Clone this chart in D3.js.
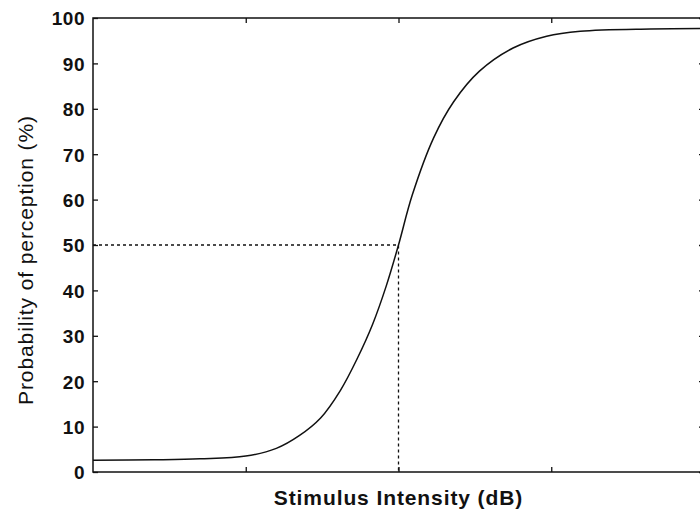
<!DOCTYPE html>
<html>
<head>
<meta charset="utf-8">
<script src="https://cdn.jsdelivr.net/npm/d3@7"></script>
<style>
    body { margin: 0; background: #fff; }
    text { font-family: "Liberation Sans", Arial, sans-serif; fill: #111; }
</style>
</head>
<body>
<div id="chart"></div>
<script>
    "use strict";

    // stimulus intensity (dB)
    const intensity = [0, 4, 7, 10, 12, 13.5, 14.9, 16.2, 17.3, 18.3, 19.2, 20, 20.9, 22.3, 23.6, 25.3, 27.5, 29.7, 31.9, 36.5, 40];
    // probability of perception (%) at each intensity
    const probability = [2.6, 2.7, 2.9, 3.5, 5.2, 8.0, 11.9, 18.0, 25.0, 32.5, 41, 50, 61, 73.6, 81.5, 88.3, 93.4, 96, 97.1, 97.6, 97.7];
    const yTicks = [0, 10, 20, 30, 40, 50, 60, 70, 80, 90, 100];
    const xTicks = [10, 20, 30];
    const threshold = { x: 20, y: 50 };

    const width = 700;
    const height = 529;
    const margin = { top: 18, right: -4, bottom: 57, left: 93 };

    const svg = d3.select("#chart").append("svg").attr("width", width).attr("height", height);

    const x = d3.scaleLinear().domain([0, 40]).range([margin.left, width - margin.right]);
    const y = d3.scaleLinear().domain([0, 100]).range([height - margin.bottom, margin.top]);

    const ink = "#111";
    const tickLen = 5;

    // frame
    svg.append("rect")
        .attr("x", x(0))
        .attr("y", y(100))
        .attr("width", x(40) - x(0))
        .attr("height", y(0) - y(100))
        .attr("fill", "none")
        .attr("stroke", ink)
        .attr("stroke-width", 1.5);

    // inward ticks, matlab style
    const yAxisLeft = d3.axisLeft(y).tickValues(yTicks).tickSize(-tickLen).tickPadding(8);
    const gLeft = svg.append("g").attr("transform", `translate(${x(0)},0)`).call(yAxisLeft);
    gLeft.select(".domain").remove();
    gLeft.selectAll("line").attr("stroke", ink).attr("stroke-width", 1.3);
    gLeft.selectAll("text")
        .style("font-size", "19px")
        .style("font-weight", "bold")
        .style("letter-spacing", "0.5px")
        .attr("dy", "0.36em");

    const gRight = svg.append("g").attr("transform", `translate(${x(40)},0)`)
        .call(d3.axisRight(y).tickValues(yTicks).tickSize(-tickLen).tickFormat(""));
    gRight.select(".domain").remove();
    gRight.selectAll("line").attr("stroke", ink).attr("stroke-width", 1.3);

    const gBottom = svg.append("g").attr("transform", `translate(0,${y(0)})`)
        .call(d3.axisBottom(x).tickValues(xTicks).tickSize(-tickLen).tickFormat(""));
    gBottom.select(".domain").remove();
    gBottom.selectAll("line").attr("stroke", ink).attr("stroke-width", 1.3);

    const gTop = svg.append("g").attr("transform", `translate(0,${y(100)})`)
        .call(d3.axisTop(x).tickValues(xTicks).tickSize(-tickLen).tickFormat(""));
    gTop.select(".domain").remove();
    gTop.selectAll("line").attr("stroke", ink).attr("stroke-width", 1.3);

    // dashed guides to the 50% point
    svg.append("path")
        .attr("d", `M${x(0)},${y(threshold.y)}H${x(threshold.x)}V${y(0)}`)
        .attr("fill", "none")
        .attr("stroke", ink)
        .attr("stroke-width", 1.3)
        .attr("stroke-dasharray", "3,3");

    // psychometric curve
    const points = intensity.map((d, i) => ({ x: d, y: probability[i] }));
    const line = d3.line().x((d) => x(d.x)).y((d) => y(d.y)).curve(d3.curveCatmullRom.alpha(0.5));
    svg.append("path")
        .datum(points)
        .attr("d", line)
        .attr("fill", "none")
        .attr("stroke", ink)
        .attr("stroke-width", 1.5);

    // axis titles
    svg.append("text")
        .attr("x", x(20))
        .attr("y", 505)
        .attr("text-anchor", "middle")
        .style("font-size", "21px")
        .style("font-weight", "bold")
        .style("letter-spacing", "0.9px")
        .text("Stimulus Intensity (dB)");

    svg.append("text")
        .attr("transform", `translate(33,260) rotate(-90)`)
        .attr("text-anchor", "middle")
        .style("font-size", "21px")
        .style("letter-spacing", "0.9px")
        .text("Probability of perception (%)");
</script>
</body>
</html>
